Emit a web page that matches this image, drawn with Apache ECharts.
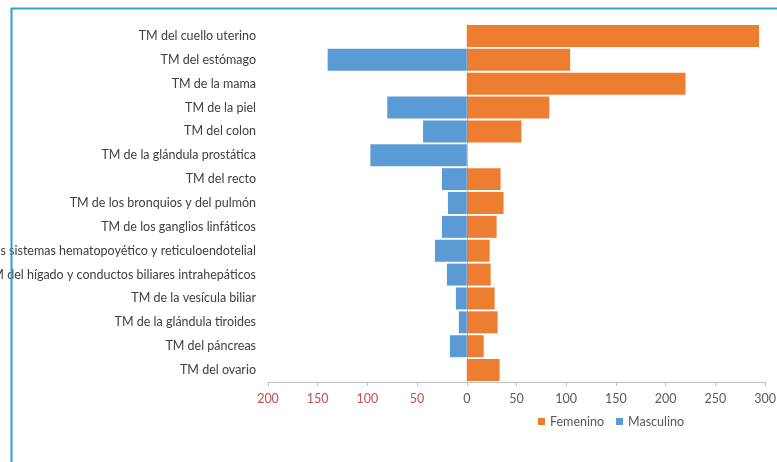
<!DOCTYPE html>
<html>
<head>
<meta charset="utf-8">
<script src="https://cdn.jsdelivr.net/npm/echarts@6/dist/echarts.min.js"></script>
<style>
  html, body { margin: 0; padding: 0; background: #ffffff; }
  #chart { width: 777px; height: 462px; }
</style>
</head>
<body>
<div id="chart"></div>
<script>
// Tumour types, top to bottom
const categories = [
  'TM del cuello uterino',
  'TM del estómago',
  'TM de la mama',
  'TM de la piel',
  'TM del colon',
  'TM de la glándula prostática',
  'TM del recto',
  'TM de los bronquios y del pulmón',
  'TM de los ganglios linfáticos',
  'TM de los sistemas hematopoyético y reticuloendotelial',
  'TM del hígado y conductos biliares intrahepáticos',
  'TM de la vesícula biliar',
  'TM de la glándula tiroides',
  'TM del páncreas',
  'TM del ovario'
];

// Cases by sex
const femenino  = [294, 104, 220, 83, 55, 0, 34, 37, 30, 23, 24, 28, 31, 17, 33];
const masculino = [0, 140, 0, 80, 44, 97, 25, 19, 25, 32, 20, 11, 8, 17, 0];

// Horizontal axis range and step
const xMin = -200, xMax = 300, xStep = 50;

const chart = echarts.init(document.getElementById('chart'), null, { renderer: 'canvas' });

const font = 'Lato, "Open Sans", sans-serif';

chart.setOption({
  backgroundColor: '#ffffff',
  animation: false,
  textStyle: { fontFamily: font },
  graphic: [
    { type: 'line', shape: { x1: 11, y1: 8.5, x2: 777, y2: 8.5 }, style: { stroke: '#2a9fd8', lineWidth: 2 }, z: 100 },
    { type: 'line', shape: { x1: 11.5, y1: 8, x2: 11.5, y2: 462 }, style: { stroke: '#2a9fd8', lineWidth: 2 }, z: 100 }
  ],
  grid: { left: 268, right: 12, top: 24, bottom: 80, containLabel: false, outerBoundsMode: 'none' },
  legend: {
    data: ['Femenino', 'Masculino'],
    left: 533, top: 410,
    icon: 'rect', itemWidth: 7, itemHeight: 7, itemGap: 12,
    textStyle: { color: '#595959', fontSize: 12.5, fontFamily: font }
  },
  xAxis: {
    type: 'value',
    min: xMin, max: xMax, interval: xStep,
    axisLine: { show: true, onZero: false, lineStyle: { color: '#bfbfbf', width: 1 } },
    axisTick: { show: true, length: 4, lineStyle: { color: '#bfbfbf' } },
    splitLine: { show: false },
    axisLabel: {
      margin: 10,
      fontSize: 12.5,
      fontFamily: font,
      formatter: v => String(Math.abs(v)),
      color: v => (v < 0 ? '#c0504d' : '#595959')
    }
  },
  yAxis: [
    {
      type: 'category',
      data: categories,
      inverse: true,
      position: 'left',
      axisLine: { show: false, onZero: false },
      axisTick: { show: false },
      axisLabel: { margin: 12, fontSize: 12.5, fontFamily: font, color: '#404040' }
    },
    {
      // zero line only
      type: 'category',
      data: categories,
      inverse: true,
      position: 'left',
      axisLine: { show: true, onZero: true, lineStyle: { color: '#bfbfbf' } },
      axisTick: { show: false },
      axisLabel: { show: false }
    }
  ],
  series: [
    {
      name: 'Femenino',
      type: 'bar',
      stack: 'sexo',
      yAxisIndex: 0,
      barCategoryGap: '8%',
      itemStyle: { color: '#ed7d31' },
      data: femenino
    },
    {
      name: 'Masculino',
      type: 'bar',
      stack: 'sexo',
      yAxisIndex: 0,
      barCategoryGap: '8%',
      itemStyle: { color: '#5b9bd5' },
      data: masculino.map(v => -v)
    }
  ]
});
</script>
</body>
</html>
